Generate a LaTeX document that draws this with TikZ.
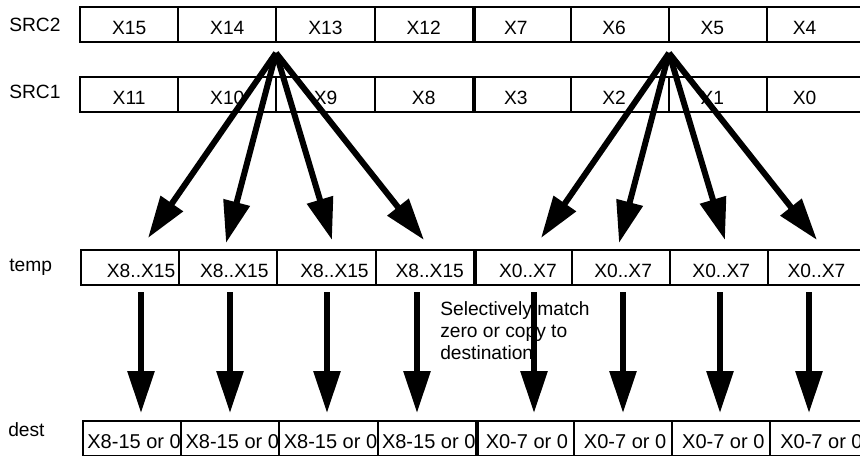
\documentclass[tikz,border=0pt]{standalone}
\usepackage{fontspec}
\setmainfont{Liberation Sans}
\usetikzlibrary{arrows.meta}

\begin{document}
\begin{tikzpicture}[x=0.75pt, y=-0.75pt,
  font=\fontsize{14.4}{16.5}\selectfont,
  cell/.style={draw, line width=1.5pt, minimum width=73.65pt, minimum height=26.25pt, inner sep=0pt},
  txt/.style={inner sep=0pt, text height=14.8pt, text depth=0pt},
  split/.style={line width=2.8pt},
  big/.style={-{Triangle[length=31.5pt, width=19.5pt]}, line width=4.5pt},
  rowlabel/.style={anchor=west, inner sep=0pt}
]
\useasboundingbox (0,0) rectangle (860,455);
\def\w{98.2}
% row labels
\node[rowlabel] (lsrc2) at (9,25) {SRC2};
\node[rowlabel] (lsrc1) at (9,92) {SRC1};
\node[rowlabel] (ltemp) at (9,267) {temp};
\node[rowlabel] (ldest) at (8,430) {dest};
% sources
\foreach \t/\dx [count=\i from 0] in {X15/0,X14/0,X13/0,X12/0,X7/-6,X6/-6,X5/-6,X4/-12} {
  \node[cell] (sa\i) at ({80+\w*(\i+0.5)},24.5) {};
  \node[txt] (sat\i) at ([shift={(\dx,0)}]sa\i.center) {\t};
}
\foreach \t/\dx [count=\i from 0] in {X11/0,X10/0,X9/0,X8/0,X3/-6,X2/-6,X1/-6,X0/-12} {
  \node[cell] (sb\i) at ({80+\w*(\i+0.5)},94.5) {};
  \node[txt] (sbt\i) at ([shift={(\dx,0)}]sb\i.center) {\t};
}
% temp
\foreach \t/\dx [count=\i from 0] in {X8..X15/11,X8..X15/6,X8..X15/8,X8..X15/5,X0..X7/5,X0..X7/2,X0..X7/2,X0..X7/-1} {
  \node[cell] (tm\i) at ({81+\w*(\i+0.5)},267.5) {};
  \node[txt] (tmt\i) at ([shift={(\dx,0)}]tm\i.center) {\t};
}
% dest
\foreach \t [count=\i from 0] in {X8-15 or 0,X8-15 or 0,X8-15 or 0,X8-15 or 0,X0-7 or 0,X0-7 or 0,X0-7 or 0,X0-7 or 0} {
  \node[cell] (ds\i) at ({83+\w*(\i+0.5)},438.5) {};
  \node[txt, font=\fontsize{15}{17}\selectfont] (dst\i) at ([shift={(2,0)}]ds\i.center) {\t};
}
% middle split
\foreach \r in {sa,sb,tm,ds}
  \draw[split] (\r3.north east) -- (\r3.south east);
% note
\node[anchor=north west, align=left, inner sep=0pt] (note) at (440,301)
  {Selectively match\\zero or copy to\\destination};
% broadcast
\coordinate (fl) at (276,53);
\coordinate (fr) at (669,53);
\foreach \dx/\dy [count=\i] in {-128/185,-50/190,56/187,148/187} {
  \path (fl) ++(\dx,\dy) coordinate (al\i);
  \path (fr) ++(\dx,\dy) coordinate (ar\i);
  \draw[big] (fl) -- (al\i);
  \draw[big] (fr) -- (ar\i);
}
% select
\foreach \x [count=\i from 0] in {141,230,327,417,534,623,720,809} {
  \coordinate (vs\i) at (\x,292);
  \coordinate (ve\i) at (\x,413);
  \draw[big] (vs\i) -- (ve\i);
}
\end{tikzpicture}
\end{document}
